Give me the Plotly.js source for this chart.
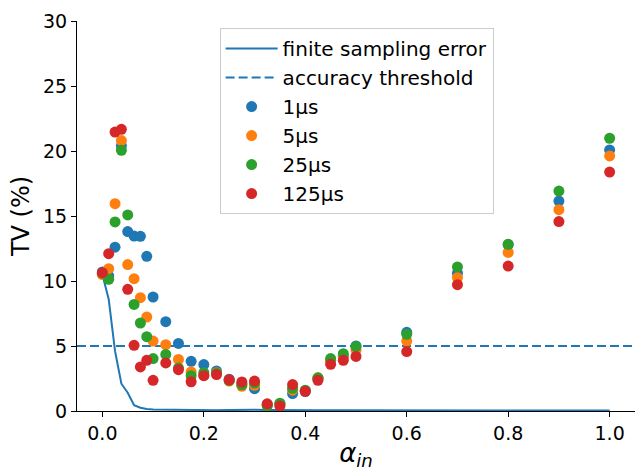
<!DOCTYPE html>
<html>
<head>
<meta charset="utf-8">
<script src="https://cdn.plot.ly/plotly-3.0.1.min.js"></script>
<style>html,body{margin:0;padding:0;background:#fff;}#chart{width:641px;height:471px;}</style>
</head>
<body>
<div id="chart"></div>
<script>
// alpha_in sample points
const alphaIn = [0, 0.0125, 0.025, 0.0375, 0.05, 0.0625, 0.075, 0.0875, 0.1, 0.125, 0.15, 0.175, 0.2, 0.225, 0.25, 0.275, 0.3, 0.325, 0.35, 0.375, 0.4, 0.425, 0.45, 0.475, 0.5, 0.6, 0.7, 0.8, 0.9, 1.0];
// finite sampling error (TV %)
const samplingError = [10.5, 8.6, 4.6, 2.1, 1.4, 0.45, 0.25, 0.15, 0.12, 0.1, 0.1, 0.08, 0.06, 0.06, 0.07, 0.1, 0.1, 0.08, 0.06, 0.06, 0.05, 0.05, 0.05, 0.05, 0.05, 0.04, 0.04, 0.04, 0.04, 0.04];
// accuracy threshold
const thresholdX = [-0.05, 1.05];
const thresholdY = [5, 5];
// TV (%) per delay
const tv1us   = [10.7, 10.4, 12.6, 20.4, 13.8, 13.46, 13.44, 11.9, 8.77, 6.87, 5.2, 3.82, 3.57, 3.08, 2.45, 2.1, 1.72, 0.5, 0.55, 1.34, 1.5, 2.5, 3.9, 4.2, 5.0, 6.05, 10.6, 12.8, 16.15, 20.08];
const tv5us   = [10.5, 10.95, 15.95, 20.8, 11.26, 10.18, 8.72, 7.23, 5.38, 5.1, 3.97, 3.0, 2.75, 2.95, 2.3, 1.9, 1.98, 0.45, 0.45, 1.6, 1.55, 2.55, 3.85, 4.15, 4.7, 5.38, 10.26, 12.2, 15.49, 19.62];
const tv25us  = [10.6, 10.13, 14.54, 20.05, 15.08, 8.2, 6.77, 5.72, 4.03, 4.35, 3.3, 2.72, 2.95, 2.9, 2.35, 2.02, 2.15, 0.4, 0.6, 1.75, 1.6, 2.55, 4.03, 4.41, 4.95, 5.9, 11.08, 12.82, 16.92, 20.98];
const tv125us = [10.64, 12.1, 21.46, 21.67, 9.36, 5.05, 3.39, 3.9, 2.36, 3.7, 3.18, 2.25, 2.72, 2.8, 2.4, 2.23, 2.3, 0.55, 0.38, 2.03, 1.52, 2.36, 3.59, 3.9, 4.2, 4.57, 9.72, 11.15, 14.57, 18.38];
const seriesNames = ['1μs', '5μs', '25μs', '125μs'];
const seriesColors = ['#1f77b4', '#ff7f0e', '#2ca02c', '#d62728'];
const xTicks = [0, 0.2, 0.4, 0.6, 0.8, 1.0];
const yTicks = [0, 5, 10, 15, 20, 25, 30];

const font = 'DejaVu Sans, sans-serif';
const traces = [
  {x: alphaIn, y: samplingError, mode: 'lines', name: 'finite sampling error',
   line: {color: '#1f77b4', width: 2}},
  {x: thresholdX, y: thresholdY, mode: 'lines', name: 'accuracy threshold',
   line: {color: '#1f77b4', width: 2, dash: '9px,4px'}}
];
[tv1us, tv5us, tv25us, tv125us].forEach((ys, i) => {
  traces.push({x: alphaIn, y: ys, mode: 'markers', name: seriesNames[i],
    marker: {color: seriesColors[i], size: 11}});
});

const layout = {
  width: 641, height: 471,
  margin: {l: 77, r: 6, t: 21, b: 60},
  paper_bgcolor: '#fff', plot_bgcolor: '#fff',
  font: {family: font, size: 19, color: '#000'},
  showlegend: true,
  legend: {x: 0.2556, y: 0.982, xanchor: 'left', yanchor: 'top',
    bgcolor: 'rgba(255,255,255,0.8)', bordercolor: '#cccccc', borderwidth: 1,
    font: {family: font, size: 20, color: '#000'}, itemwidth: 52},
  xaxis: {range: [-0.05, 1.05], showgrid: false, zeroline: false, showline: true,
    linecolor: '#000', linewidth: 1, ticks: 'outside', ticklen: 5, tickcolor: '#000',
    tickvals: xTicks, tickformat: '.1f', tickfont: {family: font, size: 19},
    title: {text: '<i>α</i><sub><i>in</i></sub>', font: {family: font, size: 26}, standoff: 9}},
  yaxis: {range: [0, 30], showgrid: false, zeroline: false, showline: true,
    linecolor: '#000', linewidth: 1, ticks: 'outside', ticklen: 5, tickcolor: '#000',
    tickvals: yTicks, tickfont: {family: font, size: 19},
    title: {text: 'TV (%)', font: {family: font, size: 24}, standoff: 6}}
};
Plotly.newPlot('chart', traces, layout, {displayModeBar: false, staticPlot: true});
</script>
</body>
</html>
